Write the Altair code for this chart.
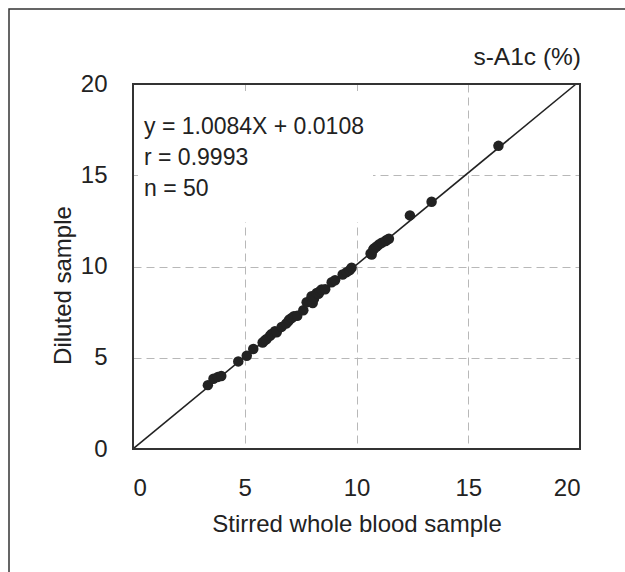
import altair as alt
import pandas as pd

# Stirred whole blood sample (x) vs Diluted sample (y), s-A1c (%)
stirred = [3.35, 3.60, 3.80, 3.95, 4.71, 5.09, 5.38, 5.80, 5.90, 5.98,
           6.13, 6.20, 6.35, 6.43, 6.65, 6.85, 6.95, 7.00, 7.10, 7.20,
           7.35, 7.62, 7.77, 7.99, 8.04, 8.10, 8.22, 8.30, 8.37, 8.44,
           8.60, 8.89, 9.04, 9.38, 9.56, 9.70, 9.78, 10.63, 10.68, 10.75,
           10.80, 10.90, 11.00, 11.13, 11.30, 11.35, 11.45, 12.39, 13.36, 16.35]
diluted = [3.50, 3.85, 3.95, 4.00, 4.80, 5.11, 5.48, 5.84, 5.95, 6.03,
           6.21, 6.30, 6.45, 6.40, 6.69, 6.87, 7.00, 7.10, 7.18, 7.27,
           7.30, 7.60, 8.04, 8.37, 8.00, 8.25, 8.55, 8.50, 8.64, 8.74,
           8.75, 9.14, 9.25, 9.56, 9.69, 9.80, 9.93, 10.71, 10.66, 10.93,
           11.00, 11.10, 11.20, 11.30, 11.40, 11.45, 11.52, 12.80, 13.55, 16.61]

slope = 1.0084
intercept = 0.0108
stats_lines = ["y = 1.0084X + 0.0108", "r = 0.9993", "n = 50"]
ticks = [0, 5, 10, 15, 20]
axis_min, axis_max = 0, 20

FONT = "Liberation Sans"
INK = "#222222"

pts = pd.DataFrame({"x": stirred, "y": diluted})
x_end = (axis_max - intercept) / slope
reg = pd.DataFrame({"x": [0, x_end], "y": [intercept, slope * x_end + intercept]})
box = pd.DataFrame({"x0": [axis_min], "x1": [axis_max], "y0": [axis_min], "y1": [axis_max]})

xs = alt.Scale(domain=[axis_min, axis_max], nice=False, zero=False)
ys = alt.Scale(domain=[axis_min, axis_max], nice=False, zero=False)

base_axis_x = alt.Axis(values=ticks, title="Stirred whole blood sample", grid=True,
                       tickSize=0, domain=False, labelPadding=27,
                       titleY=82, titleBaseline="alphabetic")
base_axis_y = alt.Axis(values=ticks, title="Diluted sample", grid=True,
                       tickSize=0, domain=False, labelPadding=26,
                       titleX=-63, titleY=201, titleBaseline="alphabetic")

points = alt.Chart(pts).mark_circle(size=110, color=INK, opacity=1).encode(
    x=alt.X("x:Q", scale=xs, axis=base_axis_x),
    y=alt.Y("y:Q", scale=ys, axis=base_axis_y),
)

mask = alt.Chart(pd.DataFrame({"a": [0]})).mark_rect(color="white").encode(
    x=alt.value(5), x2=alt.value(240), y=alt.value(7), y2=alt.value(138)
)

line = alt.Chart(reg).mark_line(color=INK, strokeWidth=1.6).encode(
    x=alt.X("x:Q", scale=xs), y=alt.Y("y:Q", scale=ys)
)

plot_box = alt.Chart(box).mark_rect(filled=False, stroke="#333333", strokeWidth=2).encode(
    x=alt.X("x0:Q", scale=xs), x2="x1", y=alt.Y("y0:Q", scale=ys), y2="y1"
)

stats = alt.Chart(pd.DataFrame({"t": [stats_lines]})).mark_text(
    align="left", baseline="alphabetic", font=FONT, fontSize=23,
    lineHeight=31, color=INK
).encode(x=alt.value(11), y=alt.value(50), text="t")

unit = alt.Chart(pd.DataFrame({"t": ["s-A1c (%)"]})).mark_text(
    align="right", baseline="alphabetic", font=FONT, fontSize=24.5, color=INK
).encode(x=alt.value(448), y=alt.value(-19), text="t:N")

frame = alt.Chart(pd.DataFrame({"a": [0]})).mark_rect(
    filled=False, stroke="#333333", strokeWidth=1.5
).encode(x=alt.value(-124), x2=alt.value(700), y=alt.value(-75), y2=alt.value(700))

chart = alt.layer(mask, line, points, plot_box, stats, unit, frame).properties(
    width=447, height=365,
    autosize=alt.AutoSizeParams(type="none"),
    padding={"left": 133, "top": 84, "right": 45, "bottom": 123},
    background="white",
).configure_view(
    stroke=None
).configure_axis(
    labelFont=FONT, titleFont=FONT, labelFontSize=24, titleFontSize=24,
    labelColor=INK, titleColor=INK, titleFontWeight="normal",
    gridColor="#b8b8b8", gridDash=[8, 5], gridWidth=1
)

chart.save("out.html", embed_options={"renderer": "svg", "actions": False})
